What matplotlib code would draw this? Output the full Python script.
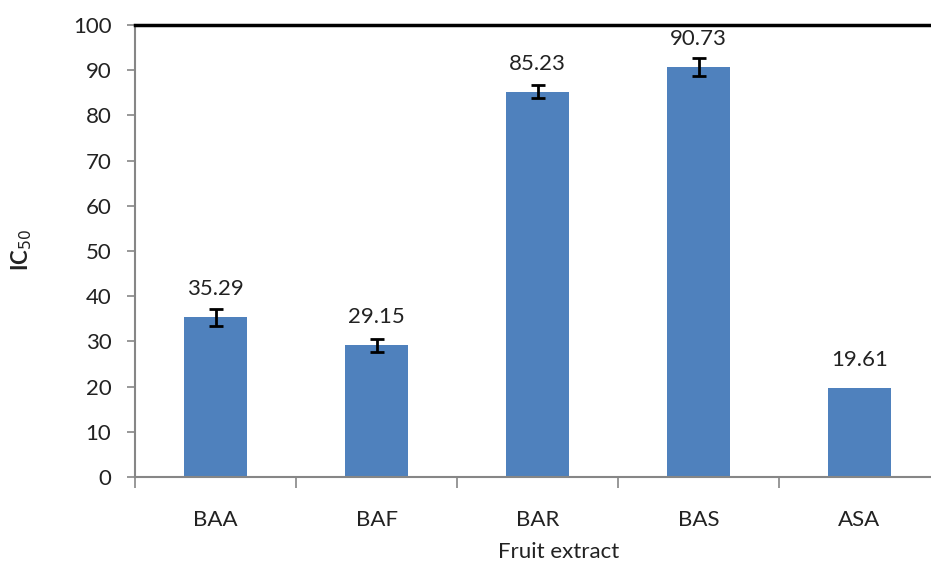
import numpy as np
import matplotlib
matplotlib.use("Agg")
import matplotlib.pyplot as plt

plt.rcParams['font.family'] = ['Lato', 'DejaVu Sans']

# data
extracts = ['BAA', 'BAF', 'BAR', 'BAS', 'ASA']
ic50 = [35.29, 29.15, 85.23, 90.73, 19.61]
ic50_err = [1.8, 1.4, 1.4, 2.0, 0.0]
y_ticks = [0, 10, 20, 30, 40, 50, 60, 70, 80, 90, 100]

fig = plt.figure(figsize=(9.31, 5.62), dpi=100)
# axes runs a bit past the right edge, like the cropped original
ax = fig.add_axes([135/931, 85/562, 805/931, 452/562])

x = np.arange(len(extracts)) + 0.5
bars = ax.bar(x, ic50, width=0.39, color='#4F81BD', zorder=2)
ax.errorbar(x[:4], ic50[:4], yerr=ic50_err[:4], fmt='none', ecolor='black',
            elinewidth=2, capsize=5, capthick=2, zorder=3)

for xi, v in zip(x, ic50):
    ax.annotate('%.2f' % v, (xi, v), xytext=(0, 13), textcoords='offset points',
                ha='center', va='bottom', fontsize=16, color='#222222')

ax.set_xlim(0, 5)
ax.set_ylim(0, 100)
ax.set_yticks(y_ticks)
ax.tick_params(axis='y', labelsize=16, length=6, width=1.2, color='#868686',
               labelcolor='#222222', pad=11)
# category ticks sit between bars
ax.set_xticks(np.arange(0, 6))
ax.set_xticklabels([])
ax.set_xticks(x, minor=True)
ax.set_xticklabels(extracts, minor=True, fontsize=16, color='#222222')
ax.tick_params(axis='x', which='major', length=8, width=1.2, color='#868686')
ax.tick_params(axis='x', which='minor', length=0, pad=24)

for s in ['left', 'bottom']:
    ax.spines[s].set_color('#868686')
    ax.spines[s].set_linewidth(1.5)
ax.spines['right'].set_visible(False)
ax.spines['top'].set_color('black')
ax.spines['top'].set_linewidth(2.5)

fig.text(22/931, 1 - 250/562, 'IC$_{50}$', rotation=90, ha='center', va='center',
         fontsize=16, fontweight='bold', color='#222222')
fig.text(559/931, 1 - 552/562, 'Fruit extract', ha='center', va='center',
         fontsize=16, color='#222222')

fig.savefig('out.png', dpi=100)
